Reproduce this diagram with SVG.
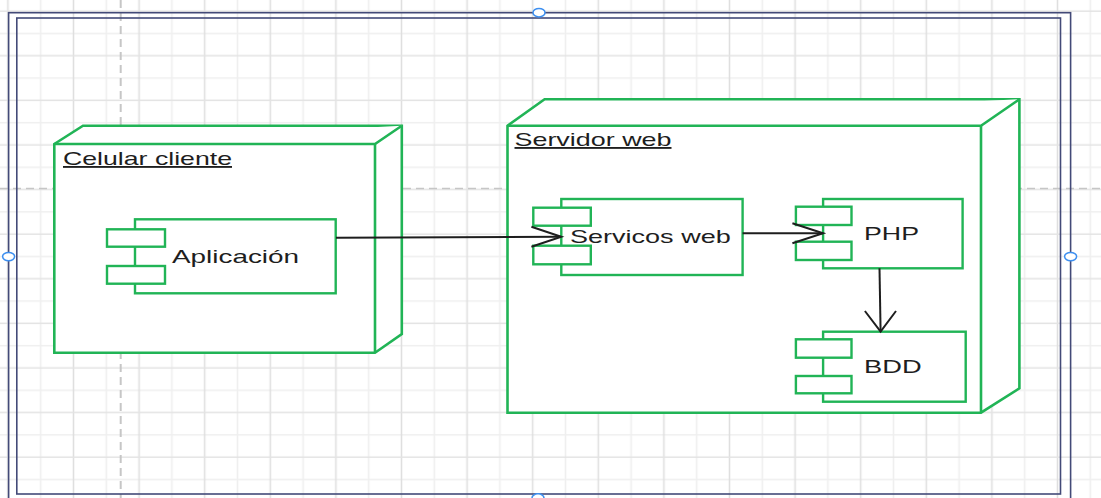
<svg xmlns="http://www.w3.org/2000/svg" width="1101" height="498" viewBox="0 0 1101 498">
<defs>
<pattern id="grid" x="-8.5" y="0" width="65.6" height="44.6" patternUnits="userSpaceOnUse">
<line x1="49.2" y1="0" x2="49.2" y2="44.6" stroke="#efefef" stroke-width="1.6"/>
<line x1="0" y1="33.45" x2="65.6" y2="33.45" stroke="#efefef" stroke-width="1.6"/>
<line x1="16.4" y1="0" x2="16.4" y2="44.6" stroke="#dfdfdf" stroke-width="1.6"/>
<line x1="0" y1="11.15" x2="65.6" y2="11.15" stroke="#e3e3e3" stroke-width="1.6"/>
</pattern>
<style>
.frame{fill:none;stroke:#434a78;stroke-width:1.6}
.guide{fill:none;stroke:#c6c6c6;stroke-dasharray:8 5}
.handle{fill:#fff;stroke:#3d8ff0;stroke-width:1.5}
.box{fill:#fff;stroke:#21b456;stroke-width:2.6;stroke-linejoin:miter}
.comp{fill:#fff;stroke:#21b456;stroke-width:2.4}
.lbl{font-family:"Liberation Sans",Arial,sans-serif;font-size:18.5px;fill:#1e1e1e}
.conn{fill:none;stroke:#1e1e1e;stroke-width:2}
</style>
</defs>
<rect x="0" y="0" width="1101" height="498" fill="#fff"/>
<rect x="0" y="0" width="1101" height="498" fill="url(#grid)"/>
<line class="guide" x1="120.7" y1="0" x2="120.7" y2="498" stroke-width="2"/>
<line class="guide" x1="0" y1="188.6" x2="1101" y2="188.6" stroke-width="1.5"/>
<rect class="frame" x="8.6" y="12.7" width="1062" height="500"/>
<rect class="frame" x="16.8" y="18" width="1043.7" height="476"/>

<g id="celular-cliente">
<polygon class="box" points="54.3,144 83,125.7 401.8,125.7 401.8,334 375,352.7 54.3,352.7"/>
<polyline class="box" fill="none" points="54.3,144 375,144 401.8,125.7"/>
<line class="box" x1="375" y1="144" x2="375" y2="352.7"/>
<text class="lbl" x="63" y="165" textLength="169" lengthAdjust="spacingAndGlyphs" text-decoration="underline">Celular cliente</text>
</g>

<g id="servidor-web">
<polygon class="box" points="507.5,125.7 544.6,99.3 1019.4,99.3 1019.4,388.3 981,412.7 507.5,412.7"/>
<polyline class="box" fill="none" points="507.5,125.7 981,125.7 1019.4,99.3"/>
<line class="box" x1="981" y1="125.7" x2="981" y2="412.7"/>
<text class="lbl" x="514.5" y="146" textLength="157" lengthAdjust="spacingAndGlyphs" text-decoration="underline">Servidor web</text>
</g>

<g id="aplicacion">
<rect class="comp" x="135" y="219.3" width="200.7" height="74"/>
<rect class="comp" x="107" y="229.3" width="58" height="17.4"/>
<rect class="comp" x="107" y="266" width="58" height="17.7"/>
<text class="lbl" x="172" y="262.7" textLength="127" lengthAdjust="spacingAndGlyphs">Aplicación</text>
</g>

<g id="servicos-web">
<rect class="comp" x="561.3" y="199" width="181.3" height="76"/>
<rect class="comp" x="533.3" y="207.7" width="57.5" height="18"/>
<rect class="comp" x="533.3" y="245.7" width="57.5" height="18.6"/>
<text class="lbl" x="570" y="243.3" textLength="160.7" lengthAdjust="spacingAndGlyphs">Servicos web</text>
</g>

<g id="php">
<rect class="comp" x="823.1" y="199" width="139.5" height="69.3"/>
<rect class="comp" x="795.9" y="206.7" width="55.6" height="18.3"/>
<rect class="comp" x="795.9" y="241.7" width="55.6" height="18.3"/>
<text class="lbl" x="864" y="240" textLength="55" lengthAdjust="spacingAndGlyphs">PHP</text>
</g>

<g id="bdd">
<rect class="comp" x="823.1" y="331.7" width="142.6" height="70"/>
<rect class="comp" x="795.9" y="339.3" width="55.6" height="18.4"/>
<rect class="comp" x="795.9" y="376" width="55.6" height="17.3"/>
<text class="lbl" x="864" y="373.3" textLength="57.6" lengthAdjust="spacingAndGlyphs">BDD</text>
</g>

<g id="connectors">
<line class="conn" x1="336" y1="237.8" x2="561" y2="236.8"/>
<polyline class="conn" points="531.4,226.7 561.3,236.8 531.4,246.7"/>
<line class="conn" x1="742.6" y1="233.3" x2="823" y2="233.3"/>
<polyline class="conn" points="792.4,223.3 823.1,233.3 792.4,243.3"/>
<line class="conn" x1="879.5" y1="268.3" x2="880.6" y2="331.5"/>
<polyline class="conn" points="864.9,311 880.6,331.7 896,311"/>
</g>

<ellipse class="handle" cx="539" cy="12.7" rx="6" ry="4.2"/>
<ellipse class="handle" cx="8.6" cy="256.6" rx="6" ry="4.2"/>
<ellipse class="handle" cx="1070.6" cy="256.6" rx="6" ry="4.2"/>
<ellipse class="handle" cx="538" cy="498" rx="6" ry="4.2"/>
</svg>
